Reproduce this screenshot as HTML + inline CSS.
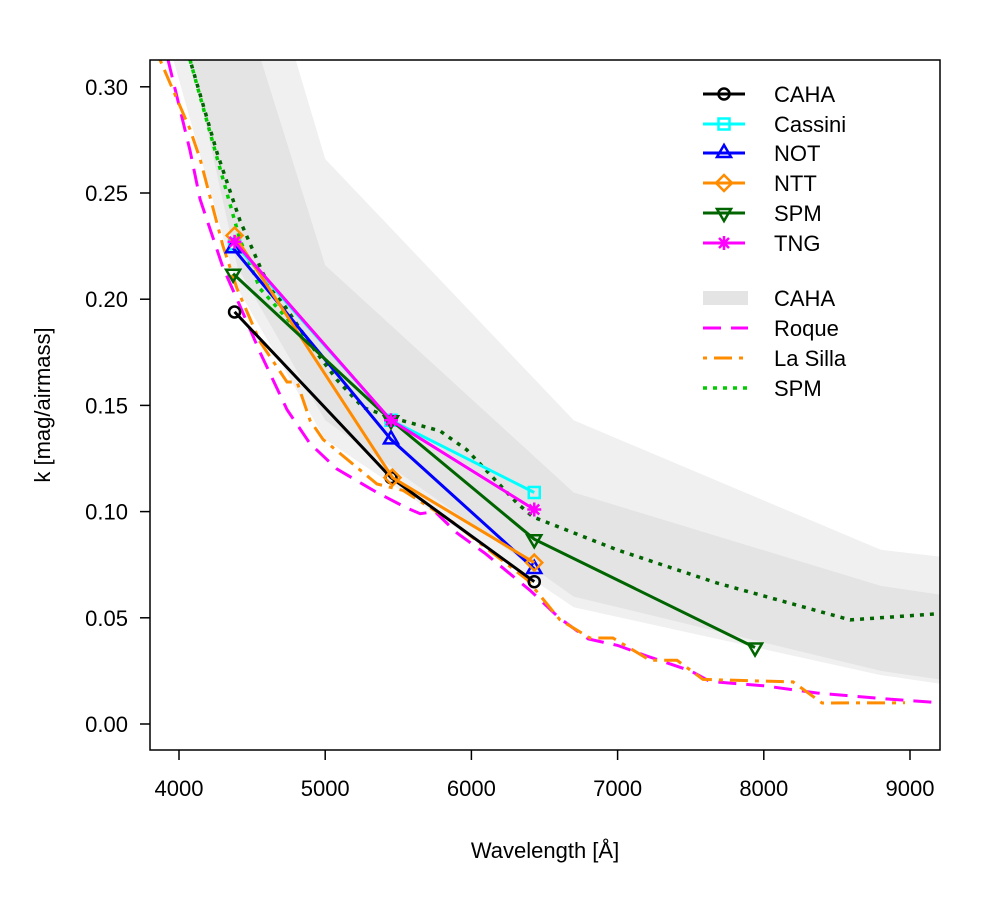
<!DOCTYPE html>
<html><head><meta charset="utf-8"><style>
body{margin:0;background:#fff}
svg text{font-family:"Liberation Sans",Arial,sans-serif;fill:#000}
</style></head><body>
<svg id="chart" width="1000" height="900">
<defs><clipPath id="pc"><rect x="150" y="60" width="790" height="690"/></clipPath></defs>
<g id="bands" clip-path="url(#pc)"></g>
<g id="curves" clip-path="url(#pc)"></g>
<g id="series" clip-path="url(#pc)"></g>
<rect x="150" y="60" width="790" height="690" fill="none" stroke="#000" stroke-width="1.5"/>
<g id="axes"></g>
<text x="50" y="405" font-size="22" text-anchor="middle" transform="rotate(-90 50 405)">k [mag/airmass]</text>
<text x="545" y="858" font-size="22" text-anchor="middle">Wavelength [Å]</text>
<g id="legend"></g>
</svg>
<script>
const xTicks=[4000,5000,6000,7000,8000,9000];
const yTicks=[0.00,0.05,0.10,0.15,0.20,0.25,0.30];
const yTickLabels=["0.00","0.05","0.10","0.15","0.20","0.25","0.30"];
// bands
const outerUpperL=[4550,5000,6700,8800,9300];
const outerUpperK=[0.37,0.266,0.143,0.082,0.078];
const outerLowerL=[3850,4400,5000,6700,8800,9300];
const outerLowerK=[0.34,0.205,0.134,0.055,0.023,0.018];
const innerUpperL=[4300,5000,6700,8800,9300];
const innerUpperK=[0.37,0.216,0.109,0.065,0.060];
const innerLowerL=[4000,4400,5000,6700,8800,9300];
const innerLowerK=[0.34,0.215,0.143,0.060,0.025,0.020];
// curves
const roqueL=[3925,4075,4144,4300,4397,4554,4739,4896,5081,5354,5550,5650,5750,5900,6100,6400,6600,6800,7000,7200,7500,7632,8000,8364,8800,9205];
const roqueK=[0.3127,0.27,0.247,0.215,0.200,0.175,0.148,0.132,0.120,0.109,0.102,0.099,0.100,0.090,0.080,0.063,0.050,0.040,0.037,0.032,0.025,0.020,0.018,0.0146,0.012,0.010];
const lasillaL=[3870,4075,4144,4301,4397,4554,4739,4807,4896,4985,5354,5532,5854,6380,6606,6811,6968,7222,7406,7584,8200,8398,8966];
const lasillaK=[0.3127,0.280,0.266,0.225,0.205,0.180,0.161,0.161,0.143,0.134,0.113,0.110,0.096,0.068,0.049,0.0405,0.0405,0.030,0.030,0.021,0.0198,0.0099,0.010];
const spmGreenL=[4075,4246,4417,4554,4896];
const spmGreenK=[0.3127,0.270,0.228,0.205,0.179];
const spmDarkL=[4075,4260,4417,4575,4896,5081,5259,5464,5785,5970,6312,6421,6996,7680,8590,9205];
const spmDarkK=[0.3127,0.269,0.237,0.212,0.179,0.162,0.149,0.144,0.138,0.129,0.104,0.0975,0.082,0.0664,0.049,0.052];
// measurements
const cahaL=[4380,5450,6430], cahaK=[0.194,0.116,0.067];
const cassiniL=[4380,5450,6430], cassiniK=[0.226,0.143,0.109];
const notL=[4370,5450,6430], notK=[0.224,0.134,0.073];
const nttL=[4380,5460,6430], nttK=[0.230,0.116,0.076];
const spmL=[4370,5450,6430,7940], spmK=[0.212,0.143,0.087,0.036];
const tngL=[4380,5450,6430], tngK=[0.227,0.143,0.101];

const X=l=>179+(l-4000)*0.1462;
const Y=k=>724-k*2124;
const NS="http://www.w3.org/2000/svg";
function mk(tag,attrs,parent){const e=document.createElementNS(NS,tag);for(const a in attrs)e.setAttribute(a,attrs[a]);parent.appendChild(e);return e;}
function pts(L,K){return L.map((l,i)=>X(l).toFixed(1)+","+Y(K[i]).toFixed(1));}
const bands=document.getElementById('bands');
let e=mk('polygon',{points:pts(outerUpperL,outerUpperK).concat(pts(outerLowerL,outerLowerK).reverse()).join(' ')+" "+X(3850)+",0 "+X(4550)+",0",fill:'#f0f0f0'},bands);

e=mk('polygon',{points:pts(innerUpperL,innerUpperK).concat(pts(innerLowerL,innerLowerK).reverse()).join(' ')+" "+X(4000)+",0 "+X(4300)+",0",fill:'#e4e4e4'},bands);

const curves=document.getElementById('curves');
e=mk('polyline',{points:pts(roqueL,roqueK).join(' '),fill:'none',stroke:'#ff00ff','stroke-width':3,'stroke-dasharray':'18,10'},curves);

e=mk('polyline',{points:pts(lasillaL,lasillaK).join(' '),fill:'none',stroke:'#ff8c00','stroke-width':3,'stroke-dasharray':'4,7,18,7'},curves);

e=mk('polyline',{points:pts(spmGreenL,spmGreenK).join(' '),fill:'none',stroke:'#00cc00','stroke-width':3.5,'stroke-dasharray':'4,6'},curves);

e=mk('polyline',{points:pts(spmDarkL,spmDarkK).join(' '),fill:'none',stroke:'#006400','stroke-width':3.5,'stroke-dasharray':'4,6','stroke-dashoffset':5},curves);


function marker(type,x,y,c,g){
  const s={fill:'none',stroke:c,'stroke-width':2.5};
  if(type==='circle')return mk('circle',Object.assign({cx:x,cy:y,r:5.5},s),g);
  if(type==='square')return mk('rect',Object.assign({x:x-5.5,y:y-5.5,width:11,height:11},s),g);
  if(type==='tri')return mk('polygon',Object.assign({points:`${x},${y-8} ${x-7},${y+4} ${x+7},${y+4}`},s),g);
  if(type==='dtri')return mk('polygon',Object.assign({points:`${x},${y+8} ${x-7},${y-4} ${x+7},${y-4}`},s),g);
  if(type==='diamond')return mk('polygon',Object.assign({points:`${x},${y-8} ${x+8},${y} ${x},${y+8} ${x-8},${y}`},s),g);
  if(type==='star')return mk('path',Object.assign({d:`M${x-7} ${y}H${x+7}M${x} ${y-7}V${y+7}M${x-5} ${y-5}L${x+5} ${y+5}M${x-5} ${y+5}L${x+5} ${y-5}`},s),g);
}
const seriesDefs=[
 ['caha',cahaL,cahaK,'#000','circle'],
 ['cassini',cassiniL,cassiniK,'#00ffff','square'],
 ['not',notL,notK,'#0000ff','tri'],
 ['ntt',nttL,nttK,'#ff8c00','diamond'],
 ['spm',spmL,spmK,'#006400','dtri'],
 ['tng',tngL,tngK,'#ff00ff','star']];
const sg=document.getElementById('series');
seriesDefs.forEach(d=>{
  const g=mk('g',{},sg);
  
  
  mk('polyline',{points:pts(d[1],d[2]).join(' '),fill:'none',stroke:d[3],'stroke-width':3},g);
  d[1].forEach((l,i)=>{const m=marker(d[4],X(l),Y(d[2][i]),d[3],g);
    
    });
});
const ax=document.getElementById('axes');
xTicks.forEach(t=>{mk('line',{x1:X(t),x2:X(t),y1:750,y2:760,stroke:'#000','stroke-width':1.5},ax);
  const tx=mk('text',{x:X(t),y:796,'font-size':22,'text-anchor':'middle'},ax);tx.textContent=t;
  });
yTicks.forEach((t,i)=>{mk('line',{x1:140,x2:150,y1:Y(t),y2:Y(t),stroke:'#000','stroke-width':1.5},ax);
  const tx=mk('text',{x:128,y:Y(t)+8,'font-size':22,'text-anchor':'end'},ax);tx.textContent=yTickLabels[i];
  });
const lg=document.getElementById('legend');
const rowsY=[94,124,153,183,213,243];
seriesDefs.forEach((d,i)=>{const g=mk('g',{},lg);
  
  mk('line',{x1:703,x2:745,y1:rowsY[i],y2:rowsY[i],stroke:d[3],'stroke-width':3},g);
  marker(d[4],724,rowsY[i],d[3],g);
  const t=mk('text',{x:774,y:rowsY[i]+8,'font-size':22},g);t.textContent=d[0]==='caha'?'CAHA':d[0]==='cassini'?'Cassini':d[0].toUpperCase();});
const l2=[['CAHA','#e4e4e4',14,null],['Roque','#ff00ff',3,'18,10'],['La Silla','#ff8c00',3,'4,7,18,7'],['SPM','#00cc00',3.5,'4,6']];
[298,328,358,388].forEach((y,i)=>{const g=mk('g',{},lg);
  
  const a={x1:703,x2:748,y1:y,y2:y,stroke:l2[i][1],'stroke-width':l2[i][2]};if(l2[i][3])a['stroke-dasharray']=l2[i][3];
  mk('line',a,g);
  const t=mk('text',{x:774,y:y+8,'font-size':22},g);t.textContent=l2[i][0];});
</script>
</body></html>
